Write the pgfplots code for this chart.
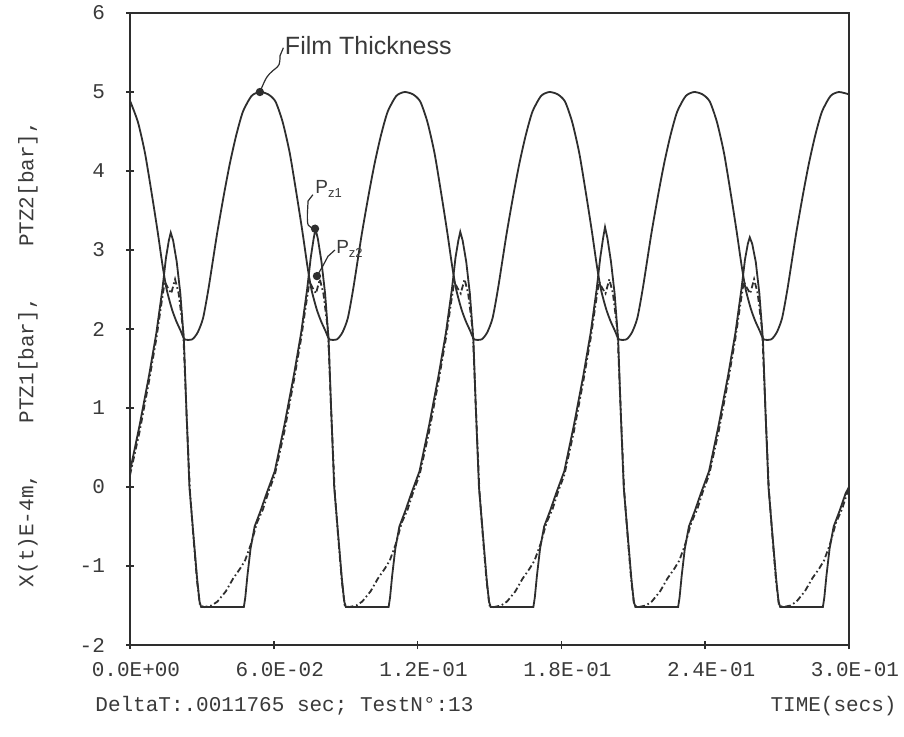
\documentclass[border=0pt]{standalone}
\usepackage{fontspec}
\setmainfont{Liberation Sans}
\setmonofont{Liberation Mono}
\usepackage{pgfplots}
\pgfplotsset{compat=1.18}
\definecolor{ink}{HTML}{2E2E2E}
\definecolor{txt}{HTML}{3A3A3A}

% film thickness, X(t) in 1E-4 m
\pgfplotstableread{
t y
0.0000 4.89
0.0033 4.62
0.0063 4.22
0.0094 3.65
0.0116 3.22
0.0136 2.80
0.0153 2.50
0.0175 2.25
0.0193 2.10
0.0211 1.98
0.0228 1.87
0.0260 1.87
0.0283 1.96
0.0305 2.14
0.0328 2.52
0.0363 3.20
0.0393 3.72
0.0417 4.10
0.0443 4.45
0.0471 4.75
0.0507 4.95
0.0542 5.00
0.0577 4.97
0.0607 4.88
0.0637 4.62
0.0667 4.22
0.0698 3.65
0.0720 3.22
0.0740 2.80
0.0757 2.50
0.0779 2.25
0.0797 2.10
0.0815 1.98
0.0832 1.87
0.0864 1.87
0.0887 1.96
0.0909 2.14
0.0932 2.52
0.0967 3.20
0.0997 3.72
0.1021 4.10
0.1047 4.45
0.1075 4.75
0.1111 4.95
0.1146 5.00
0.1181 4.97
0.1211 4.88
0.1241 4.62
0.1271 4.22
0.1302 3.65
0.1324 3.22
0.1344 2.80
0.1361 2.50
0.1383 2.25
0.1401 2.10
0.1419 1.98
0.1436 1.87
0.1468 1.87
0.1491 1.96
0.1513 2.14
0.1536 2.52
0.1571 3.20
0.1601 3.72
0.1625 4.10
0.1651 4.45
0.1679 4.75
0.1715 4.95
0.1750 5.00
0.1785 4.97
0.1815 4.88
0.1845 4.62
0.1875 4.22
0.1906 3.65
0.1928 3.22
0.1948 2.80
0.1965 2.50
0.1987 2.25
0.2005 2.10
0.2023 1.98
0.2040 1.87
0.2072 1.87
0.2095 1.96
0.2117 2.14
0.2140 2.52
0.2175 3.20
0.2205 3.72
0.2229 4.10
0.2255 4.45
0.2283 4.75
0.2319 4.95
0.2354 5.00
0.2389 4.97
0.2419 4.88
0.2449 4.62
0.2479 4.22
0.2510 3.65
0.2532 3.22
0.2552 2.80
0.2569 2.50
0.2591 2.25
0.2609 2.10
0.2627 1.98
0.2644 1.87
0.2676 1.87
0.2699 1.96
0.2721 2.14
0.2744 2.52
0.2779 3.20
0.2809 3.72
0.2833 4.10
0.2859 4.45
0.2887 4.75
0.2923 4.95
0.2958 5.00
0.3000 4.97
}\film

% PTZ1 [bar]
\pgfplotstableread{
t y
0.0000 0.20
0.0040 0.78
0.0080 1.42
0.0110 1.95
0.0135 2.50
0.0150 2.90
0.0162 3.12
0.0170 3.22
0.0180 3.12
0.0195 2.85
0.0210 2.45
0.0225 1.85
0.0235 1.00
0.0248 0.00
0.0265 -0.62
0.0280 -1.16
0.0290 -1.45
0.0297 -1.52
0.0475 -1.52
0.0481 -1.40
0.0490 -1.12
0.0503 -0.78
0.0520 -0.50
0.0545 -0.30
0.0570 -0.08
0.0604 0.20
0.0644 0.78
0.0684 1.42
0.0714 1.95
0.0739 2.50
0.0754 2.90
0.0766 3.14
0.0774 3.27
0.0784 3.14
0.0799 2.85
0.0814 2.45
0.0829 1.85
0.0839 1.00
0.0852 0.00
0.0869 -0.62
0.0884 -1.16
0.0894 -1.45
0.0901 -1.52
0.1079 -1.52
0.1085 -1.40
0.1094 -1.12
0.1107 -0.78
0.1124 -0.50
0.1149 -0.30
0.1174 -0.08
0.1208 0.20
0.1248 0.78
0.1288 1.42
0.1318 1.95
0.1343 2.50
0.1358 2.90
0.1370 3.12
0.1378 3.23
0.1388 3.12
0.1403 2.85
0.1418 2.45
0.1433 1.85
0.1443 1.00
0.1456 0.00
0.1473 -0.62
0.1488 -1.16
0.1498 -1.45
0.1505 -1.52
0.1683 -1.52
0.1689 -1.40
0.1698 -1.12
0.1711 -0.78
0.1728 -0.50
0.1753 -0.30
0.1778 -0.08
0.1812 0.20
0.1852 0.78
0.1892 1.42
0.1922 1.95
0.1947 2.50
0.1962 2.90
0.1974 3.15
0.1982 3.29
0.1992 3.15
0.2007 2.85
0.2022 2.45
0.2037 1.85
0.2047 1.00
0.2060 0.00
0.2077 -0.62
0.2092 -1.16
0.2102 -1.45
0.2109 -1.52
0.2287 -1.52
0.2293 -1.40
0.2302 -1.12
0.2315 -0.78
0.2332 -0.50
0.2357 -0.30
0.2382 -0.08
0.2416 0.20
0.2456 0.78
0.2496 1.42
0.2526 1.95
0.2551 2.50
0.2566 2.88
0.2578 3.08
0.2586 3.16
0.2596 3.08
0.2611 2.85
0.2626 2.45
0.2641 1.85
0.2651 1.00
0.2664 0.00
0.2681 -0.62
0.2696 -1.16
0.2706 -1.45
0.2713 -1.52
0.2891 -1.52
0.2897 -1.40
0.2906 -1.12
0.2919 -0.78
0.2936 -0.50
0.2961 -0.30
0.2986 -0.08
0.3000 0.00
}\pzone

% PTZ2 [bar]
\pgfplotstableread{
t y
0.0000 0.15
0.0040 0.70
0.0080 1.35
0.0110 1.88
0.0130 2.30
0.0145 2.60
0.0158 2.52
0.0172 2.45
0.0188 2.63
0.0203 2.45
0.0222 1.98
0.0235 1.00
0.0250 -0.05
0.0265 -0.65
0.0280 -1.20
0.0292 -1.50
0.0310 -1.52
0.0340 -1.50
0.0365 -1.45
0.0400 -1.32
0.0430 -1.16
0.0460 -1.03
0.0480 -0.93
0.0505 -0.72
0.0530 -0.45
0.0555 -0.28
0.0578 -0.06
0.0604 0.15
0.0644 0.70
0.0684 1.35
0.0714 1.88
0.0734 2.30
0.0749 2.60
0.0762 2.52
0.0776 2.45
0.0792 2.63
0.0807 2.45
0.0826 1.98
0.0839 1.00
0.0854 -0.05
0.0869 -0.65
0.0884 -1.20
0.0896 -1.50
0.0914 -1.52
0.0944 -1.50
0.0969 -1.45
0.1004 -1.32
0.1034 -1.16
0.1064 -1.03
0.1084 -0.93
0.1109 -0.72
0.1134 -0.45
0.1159 -0.28
0.1182 -0.06
0.1208 0.15
0.1248 0.70
0.1288 1.35
0.1318 1.88
0.1338 2.30
0.1353 2.60
0.1366 2.52
0.1380 2.45
0.1396 2.63
0.1411 2.45
0.1430 1.98
0.1443 1.00
0.1458 -0.05
0.1473 -0.65
0.1488 -1.20
0.1500 -1.50
0.1518 -1.52
0.1548 -1.50
0.1573 -1.45
0.1608 -1.32
0.1638 -1.16
0.1668 -1.03
0.1688 -0.93
0.1713 -0.72
0.1738 -0.45
0.1763 -0.28
0.1786 -0.06
0.1812 0.15
0.1852 0.70
0.1892 1.35
0.1922 1.88
0.1942 2.30
0.1957 2.60
0.1970 2.52
0.1984 2.45
0.2000 2.63
0.2015 2.45
0.2034 1.98
0.2047 1.00
0.2062 -0.05
0.2077 -0.65
0.2092 -1.20
0.2104 -1.50
0.2122 -1.52
0.2152 -1.50
0.2177 -1.45
0.2212 -1.32
0.2242 -1.16
0.2272 -1.03
0.2292 -0.93
0.2317 -0.72
0.2342 -0.45
0.2367 -0.28
0.2390 -0.06
0.2416 0.15
0.2456 0.70
0.2496 1.35
0.2526 1.88
0.2546 2.30
0.2561 2.60
0.2574 2.52
0.2588 2.45
0.2604 2.63
0.2619 2.45
0.2638 1.98
0.2651 1.00
0.2666 -0.05
0.2681 -0.65
0.2696 -1.20
0.2708 -1.50
0.2726 -1.52
0.2756 -1.50
0.2781 -1.45
0.2816 -1.32
0.2846 -1.16
0.2876 -1.03
0.2896 -0.93
0.2921 -0.72
0.2946 -0.45
0.2971 -0.28
0.2994 -0.06
0.3000 0.00
}\pztwo

\begin{document}
\begin{tikzpicture}
% page is 904 x 737 px at 0.5pt per px
\path[use as bounding box, fill=white] (0,0) rectangle (452pt,-368.5pt);
\begin{axis}[
  at={(65pt,-322.5pt)}, anchor=south west,
  scale only axis, width=359.5pt, height=316pt,
  xmin=0, xmax=0.3, ymin=-2, ymax=6,
  axis line style={ink, line width=1.1pt},
  tick style={ink, line width=0.8pt},
  major tick length=4pt, tick align=center, tick pos=left,
  xtick={0,0.06,0.12,0.18,0.24,0.3},
  xticklabels={0.0E+00,6.0E-02,1.2E-01,1.8E-01,2.4E-01,3.0E-01},
  ytick={-2,-1,0,1,2,3,4,5,6},
  yticklabels={-2,-1,0,1,2,3,4,5,6},
  ticklabel style={font=\ttfamily\fontsize{10.5}{12}\selectfont, text=txt},
  xticklabel style={yshift=-3pt, xshift=3pt},
  yticklabel style={xshift=-7pt},
  every axis plot/.append style={ink, line width=0.9pt},
  clip=false,
]
\addplot[smooth, tension=0.4] table[x=t, y=y] {\film};
\addplot[sharp plot] table[x=t, y=y] {\pzone};
\addplot[sharp plot, dash pattern=on 3pt off 1.4pt on 0.8pt off 1.4pt] table[x=t, y=y] {\pztwo};
% annotation dots
\addplot[only marks, mark=*, mark size=1.6pt, ink] coordinates {(0.0542,5.0) (0.0772,3.27) (0.0780,2.67)};
% leaders and labels
\draw[ink, line width=0.6pt] (axis cs:0.0542,5.0) .. controls (axis cs:0.0570,5.20) .. (axis cs:0.0600,5.28)
   .. controls (axis cs:0.0625,5.34) .. (axis cs:0.0626,5.46) -- (axis cs:0.0640,5.56);
\node[anchor=base west, font=\fontsize{12.5}{14}\selectfont, text=txt, inner sep=0pt] at (axis cs:0.0645,5.47) {Film Thickness};
\draw[ink, line width=0.6pt] (axis cs:0.0772,3.27) .. controls (axis cs:0.0740,3.30) .. (axis cs:0.0740,3.45)
   -- (axis cs:0.0743,3.62) -- (axis cs:0.0763,3.70);
\node[anchor=base west, font=\fontsize{9.5}{11}\selectfont, text=txt, inner sep=0pt] at (axis cs:0.0772,3.71) {P\raisebox{-0.35ex}{\fontsize{6.5}{7}\selectfont z1}};
\draw[ink, line width=0.6pt] (axis cs:0.0780,2.67) -- (axis cs:0.0805,2.80) -- (axis cs:0.0826,2.92) -- (axis cs:0.0855,3.00);
\node[anchor=base west, font=\fontsize{9.5}{11}\selectfont, text=txt, inner sep=0pt] at (axis cs:0.0859,2.95) {P\raisebox{-0.35ex}{\fontsize{6.5}{7}\selectfont z2}};
\end{axis}
% y axis title and footer
\node[rotate=90, font=\ttfamily\fontsize{10.5}{12}\selectfont, text=txt] at (14pt,-177pt)
  {X(t)E-4m,\ \ \ \ PTZ1[bar],\ \ \ \ PTZ2[bar],};
\node[anchor=base west, font=\ttfamily\fontsize{10.5}{12}\selectfont, text=txt, inner sep=0pt] at (47.5pt,-355.5pt)
  {DeltaT:.0011765 sec; TestN°:13};
\node[anchor=base east, font=\ttfamily\fontsize{10.5}{12}\selectfont, text=txt, inner sep=0pt] at (448.5pt,-355.5pt)
  {TIME(secs)};
\end{tikzpicture}
\end{document}
